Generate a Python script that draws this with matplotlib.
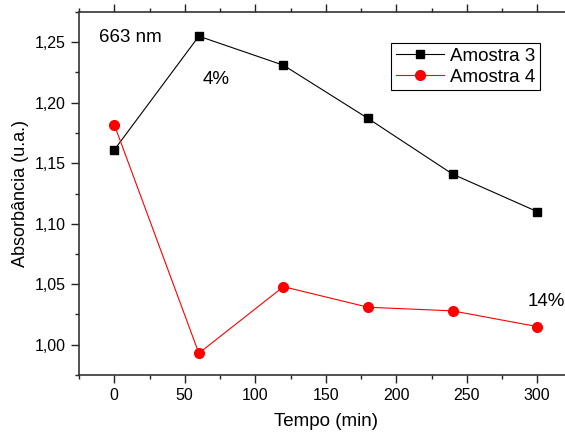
import matplotlib
matplotlib.use("Agg")
import matplotlib.pyplot as plt
from matplotlib.ticker import MultipleLocator, FuncFormatter

plt.rcParams['font.family'] = ['Liberation Sans', 'DejaVu Sans']

tempo = [0, 60, 120, 180, 240, 300]
amostra3 = [1.161, 1.255, 1.231, 1.187, 1.141, 1.110]
amostra4 = [1.182, 0.993, 1.048, 1.031, 1.028, 1.015]

fig = plt.figure(figsize=(5.65, 4.32), dpi=100)
# right spine sits just past the picture edge, as in the original crop
ax = fig.add_axes([79 / 565, 57 / 432, 350 * 1.41 / 565, 363 / 432])

ax.plot(tempo, amostra3, color='black', lw=0.8, marker='s', ms=5.5,
        label='Amostra 3')
ax.plot(tempo, amostra4, color='red', lw=0.8, marker='o', ms=7,
        label='Amostra 4')

ax.set_xlim(-25, 325)
ax.set_ylim(0.975, 1.275)

ax.xaxis.set_major_locator(MultipleLocator(50))
ax.xaxis.set_minor_locator(MultipleLocator(25))
ax.yaxis.set_major_locator(MultipleLocator(0.05))
ax.yaxis.set_minor_locator(MultipleLocator(0.025))
ax.yaxis.set_major_formatter(FuncFormatter(lambda v, p: f"{v:.2f}".replace('.', ',')))

ax.tick_params(which='both', direction='out', labelsize=11.5, width=1,
               colors='#222222', labelcolor='black')
ax.tick_params(which='major', length=6)
ax.tick_params(which='minor', length=3)
ax.tick_params(top=True, which='both', labeltop=False)
ax.spines['right'].set_visible(False)
for s in ['left', 'bottom', 'top']:
    ax.spines[s].set_linewidth(1.2)
    ax.spines[s].set_color('#333333')

ax.set_xlabel('Tempo (min)', fontsize=13.5, labelpad=7)
ax.set_ylabel('Absorbância (u.a.)', fontsize=13, labelpad=4)

fig.text(99 / 565, 1 - 37 / 432, '663 nm', fontsize=13.5, va='center')
fig.text(203 / 565, 1 - 79 / 432, '4%', fontsize=13.5, va='center')
fig.text(528 / 565, 1 - 302 / 432, '14%', fontsize=13.5, va='center')

leg = ax.legend(loc='upper left', bbox_to_anchor=(391 / 565, 1 - 43 / 432),
                bbox_transform=fig.transFigure, fontsize=13.5, frameon=True,
                fancybox=False, edgecolor='black', framealpha=1,
                borderpad=0.25, handlelength=2.6, handletextpad=0.3,
                labelspacing=0.2, borderaxespad=0)
leg.get_frame().set_linewidth(0.8)

fig.savefig('out.png', dpi=100)
